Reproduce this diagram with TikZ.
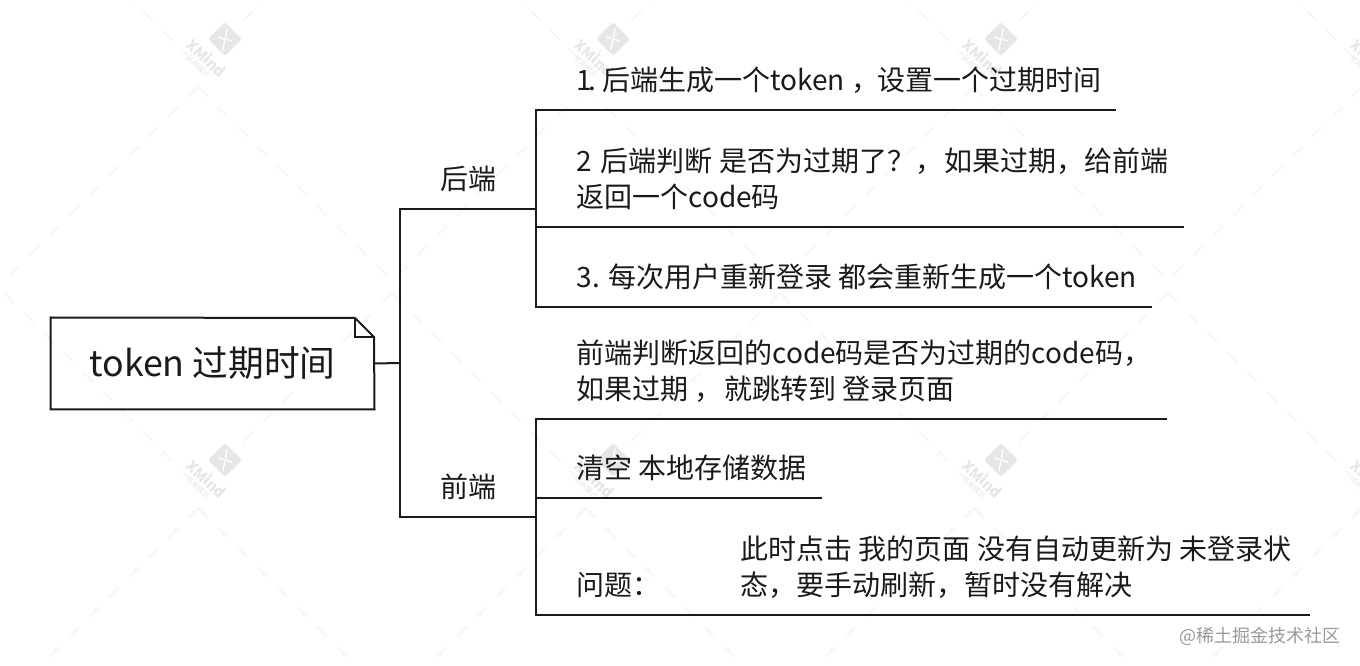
\documentclass[tikz,border=0pt]{standalone}
\usepackage{fontspec}
\setmainfont{Noto Sans CJK SC}

\definecolor{inkline}{HTML}{1A1A1A}
\definecolor{markgray}{HTML}{E6E6E6}
\definecolor{latticegray}{HTML}{EFEFEF}

\tikzset{
    every picture/.style={line width=0.75pt},
    conn/.style={draw=inkline,line width=1.5pt},
    topic/.style={anchor=south west,inner xsep=0pt,inner ysep=6pt,align=left,text=inkline,
        font=\fontsize{21}{27}\selectfont,execute at begin node=\strut,execute at end node=\strut},
    branch/.style={topic,minimum width=102pt},
    rootbox/.style={minimum width=242.25pt,minimum height=68.25pt,inner sep=0pt,text=inkline,
        font=\fontsize{26.8}{30}\selectfont},
    lattice/.style={draw=latticegray,line width=0.75pt,dash pattern=on 10.5pt off 10.5pt}
}

% one watermark, placed by the tip of the lattice under it
\newcommand{\xmindmark}[2]{
    \fill[markgray,rounded corners=2pt,rotate around={45:(#1+27,#2-48)}]
        (#1+15,#2-60) rectangle (#1+39,#2-36);
    \draw[white,line width=1pt] (#1+20,#2-50) -- (#1+34,#2-46) (#1+29,#2-59) -- (#1+25,#2-37);
    \node[rotate=-43,text=markgray,inner sep=0pt,font=\fontsize{11}{11}\selectfont\bfseries] at (#1+9,#2-29) {XMind};
    \node[rotate=-43,text=markgray,inner sep=0pt,font=\fontsize{5.5}{6}\selectfont] at (#1,#2-21) {试用模式};
}

\begin{document}
\begin{tikzpicture}[x=0.75pt,y=-0.75pt]
    \useasboundingbox (0,0) rectangle (1360,666);

    % background
    \begin{scope}
        \clip (0,0) rectangle (1360,666);
        \foreach \x in {198,586,974,1362} {
            \foreach \y in {87,508} {
                \draw[lattice] (\x,\y) -- (\x-194,\y+194);
                \draw[lattice] (\x,\y) -- (\x+194,\y+194);
                \xmindmark{\x}{\y}
            }
            \draw[lattice] (\x+194,-128) -- (\x,66);
            \draw[lattice] (\x-194,-128) -- (\x,66);
            \draw[lattice] (\x+194,293) -- (\x,487);
            \draw[lattice] (\x-194,293) -- (\x,487);
        }
    \end{scope}

    % root
    \node[rootbox] (root) at (212.5,363.5) {token 过期时间};
    \coordinate (foldtop) at (355,318);
    \coordinate (foldside) at (374,337);
    \draw[conn] (root.north west) -- (foldtop) -- (foldside) -- (root.south east) -- (root.south west) -- cycle;
    \draw[conn,line width=1pt] (foldtop) |- (foldside);

    % branches
    \node[branch,align=center] (back) at (400,209) {后端};
    \node[branch,align=center] (front) at (400,517) {前端};
    \coordinate (hub) at (400,363);
    \draw[conn] (root.east) -- (hub);
    \draw[conn] (back.south east) -- (back.south west) |- (front.south east);

    % back end topics
    \node[topic] (b1) at (576,110) {1\kern-3pt. \kern-1.5pt{}后端生成一个token ，\kern-6pt{} 设置一个过期时间};
    \node[topic] (b2) at (576,227) {2\kern2pt{} 后端判断 是否为过期了？，\kern-3.75pt{} 如果过期，给前端\\返回一个code码};
    \node[topic] (b3) at (576,307) {3. 每次用户重新登录 都会重新生成一个token};
    \coordinate (b1end) at (1116,110);
    \coordinate (b2end) at (1184,227);
    \coordinate (b3end) at (1152,307);
    \draw[conn] (b1end) -- ([xshift=-30pt]b1.south west) |- (b3end);
    \draw[conn] ([xshift=-30pt]b2.south west) -- (b2end);

    % front end topics
    \node[topic] (f1) at (576,419) {前端判断返回的code码是否为过期的code码，\\如果过期 ，\kern-3.75pt{} 就跳转到 登录页面};
    \node[topic] (f2) at (576,498) {清空 本地存储数据};
    \node[topic] (f3) at (576,615) {问题：};
    \node[topic] (f3note) at (740,615) {此时点击 我的页面 没有自动更新为 未登录状\\态，要手动刷新，暂时没有解决};
    \coordinate (f1end) at (1167,419);
    \coordinate (f2end) at (822,498);
    \coordinate (f3end) at (1310,615);
    \draw[conn] (f1end) -- ([xshift=-30pt]f1.south west) |- (f3end);
    \draw[conn] ([xshift=-30pt]f2.south west) -- (f2end);

    \node[anchor=east,inner sep=0pt,text=black!40,font=\fontsize{13.5}{16}\selectfont] (credit) at (1341,636) {@稀土掘金技术社区};
\end{tikzpicture}
\end{document}
